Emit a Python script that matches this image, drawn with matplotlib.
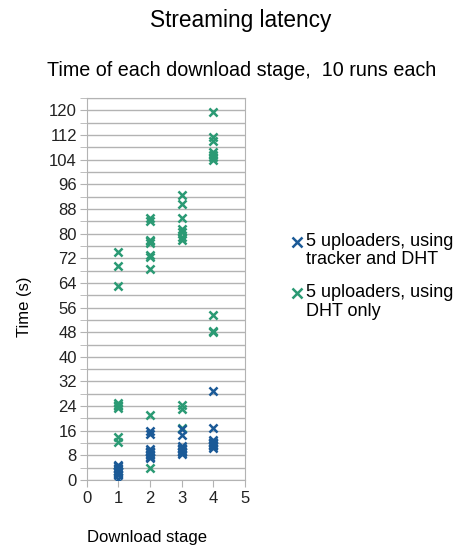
import matplotlib.pyplot as plt
from matplotlib.lines import Line2D
from matplotlib.ticker import MultipleLocator

plt.rcParams['font.family'] = ['Liberation Sans', 'DejaVu Sans']

# Download stage of each run
stages = [1, 2, 3, 4]

# 5 uploaders, using tracker and DHT (10 runs per stage)
tracker_dht = {
    1: [5, 4.5, 4, 3.5, 3, 3, 2.5, 2, 1.5, 0.5],
    2: [16, 15, 10, 9.5, 9, 9, 8.5, 8, 7.5, 7],
    3: [16.5, 14.5, 11, 10.5, 10, 10, 9.5, 9, 9, 8.5],
    4: [29, 17, 13, 12.5, 12, 12, 11.5, 11.5, 11, 10.5],
}

# 5 uploaders, using DHT only (10 runs per stage)
dht_only = {
    1: [74, 69.5, 63, 25, 24.5, 24, 23.5, 14, 12.5, 3],
    2: [85, 84, 78, 77.5, 77, 73, 72.5, 68.5, 21, 4],
    3: [92.5, 89.5, 85, 81.5, 80.5, 79, 78, 24.5, 23, 17],
    4: [119.5, 111.5, 110, 106.5, 105.5, 105, 104, 53.5, 48.5, 48],
}

series_labels = ['5 uploaders, using\ntracker and DHT', '5 uploaders, using\nDHT only']

blue = '#1b5a97'
green = '#2b9a74'

W, H = 453, 548
fig = plt.figure(figsize=(W / 100, H / 100), dpi=100)
ax = fig.add_axes([0.1914, 0.124, 0.3496, 0.697])

x1 = [s for s in stages for _ in tracker_dht[s]]
y1 = [v for s in stages for v in tracker_dht[s]]
x2 = [s for s in stages for _ in dht_only[s]]
y2 = [v for s in stages for v in dht_only[s]]

ax.scatter(x2, y2, marker='x', s=34, linewidths=1.8, color=green, zorder=3)
ax.scatter(x1, y1, marker='x', s=34, linewidths=1.8, color=blue, zorder=4)

ax.set_xlim(0, 5)
ax.set_ylim(0, 124)
ax.xaxis.set_major_locator(MultipleLocator(1))
ax.yaxis.set_major_locator(MultipleLocator(8))
ax.yaxis.set_minor_locator(MultipleLocator(4))
ax.grid(True, which='both', axis='y', color='#b3b3b3', linewidth=1)
ax.set_axisbelow(True)
for sp in ax.spines.values():
    sp.set_color('#b3b3b3')
ax.tick_params(axis='both', which='both', direction='out', color='#b3b3b3',
               labelsize=12, labelcolor='#222222')
ax.tick_params(axis='y', which='both', length=5, pad=2)
ax.tick_params(axis='x', length=5, pad=3)

ax.set_xlabel('Download stage', fontsize=12)
ax.xaxis.set_label_coords(0.38, -0.13)
ax.set_ylabel('Time (s)', fontsize=12)
ax.yaxis.set_label_coords(-0.345, 0.455)

fig.text(241 / W, 1 - 20 / H, 'Streaming latency', ha='center', va='center', fontsize=16.3)
fig.text(241.5 / W, 1 - 70 / H, 'Time of each download stage,  10 runs each', ha='center',
         va='center', fontsize=14.2)

# legend drawn by hand so the marker sits on the first line of each label
for (mx, my), lab, col in zip([(296.5, 241.5), (296.5, 293)], series_labels, [blue, green]):
    fig.add_artist(Line2D([mx / W], [1 - my / H], marker='x', markersize=7,
                          markeredgewidth=1.8, color=col, linestyle='none'))
    fig.text(306 / W, 1 - (my - 9) / H, lab, ha='left', va='top', fontsize=13,
             linespacing=1.12)

fig.savefig('out.png', dpi=100)
